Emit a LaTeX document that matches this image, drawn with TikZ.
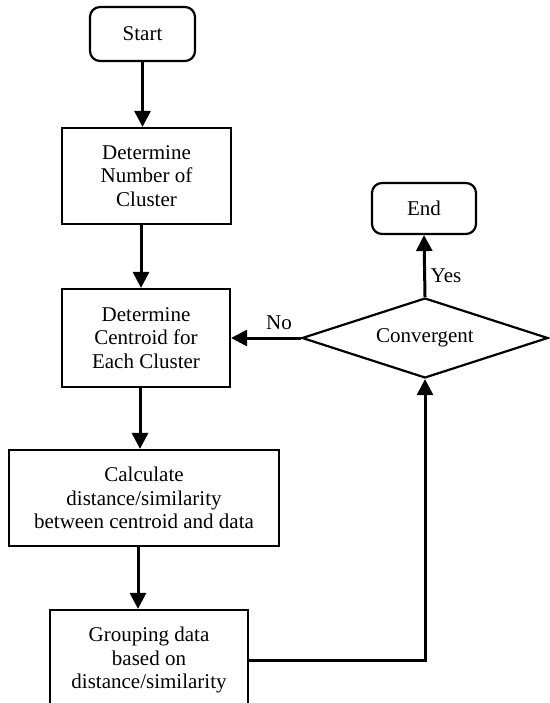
\documentclass[tikz,border=0pt]{standalone}
\usepackage{fontspec}
\setmainfont{Liberation Serif}
\usetikzlibrary{shapes.geometric,arrows.meta}
\begin{document}
\begin{tikzpicture}[x=1pt,y=-1pt,
  every node/.style={font=\fontsize{21}{23.5}\selectfont},
  box/.style={draw,line width=2.2pt,rectangle,align=center,inner sep=0pt},
  term/.style={box,rounded corners=10pt},
  dec/.style={draw,line width=2.2pt,diamond,aspect=3.07,inner sep=0pt,minimum width=246pt,minimum height=80pt},
  lbl/.style={inner sep=0pt},
  conn/.style={line width=3pt,-{Triangle[length=16pt,width=16pt]}},
  line/.style={line width=3pt}]
\useasboundingbox (0,0) rectangle (549,703);
\node[term,minimum width=105pt,minimum height=54pt] (start) at (142.5,34) {Start};
\node[box,minimum width=169pt,minimum height=96pt] (num) at (146.5,176) {Determine\\Number of\\Cluster};
\node[box,minimum width=168pt,minimum height=98pt] (cent) at (146,338) {Determine\\Centroid for\\Each Cluster};
\node[box,minimum width=270pt,minimum height=96pt] (calc) at (144,498) {Calculate\\distance/similarity\\between centroid and data};
\node[box,minimum width=198pt,minimum height=100pt] (group) at (149,660) {Grouping data\\based on\\distance/similarity};
\node[dec] (dia) at (425,338) {Convergent};
\node[term,minimum width=104pt,minimum height=51pt] (end) at (424,208.5) {End};
\node[lbl] (no) at (279,323) {No};
\node[lbl] (yes) at (446,276) {Yes};
\draw[conn] (start.south) -- (start.south |- num.north);
\draw[conn] ([xshift=-5.5pt]num.south) -- ([xshift=-5.5pt]num.south |- cent.north);
\draw[conn] ([xshift=-6pt]cent.south) -- ([xshift=-6pt]cent.south |- calc.north);
\draw[conn] ([xshift=-6pt]calc.south) -- ([xshift=-6pt]calc.south |- group.north);
\draw[conn] (dia.west) -- (dia.west -| cent.east);
\draw[conn] (dia.north) -- (end.south);
\draw[conn] (group.east) -| (dia.south);
\end{tikzpicture}
\end{document}
